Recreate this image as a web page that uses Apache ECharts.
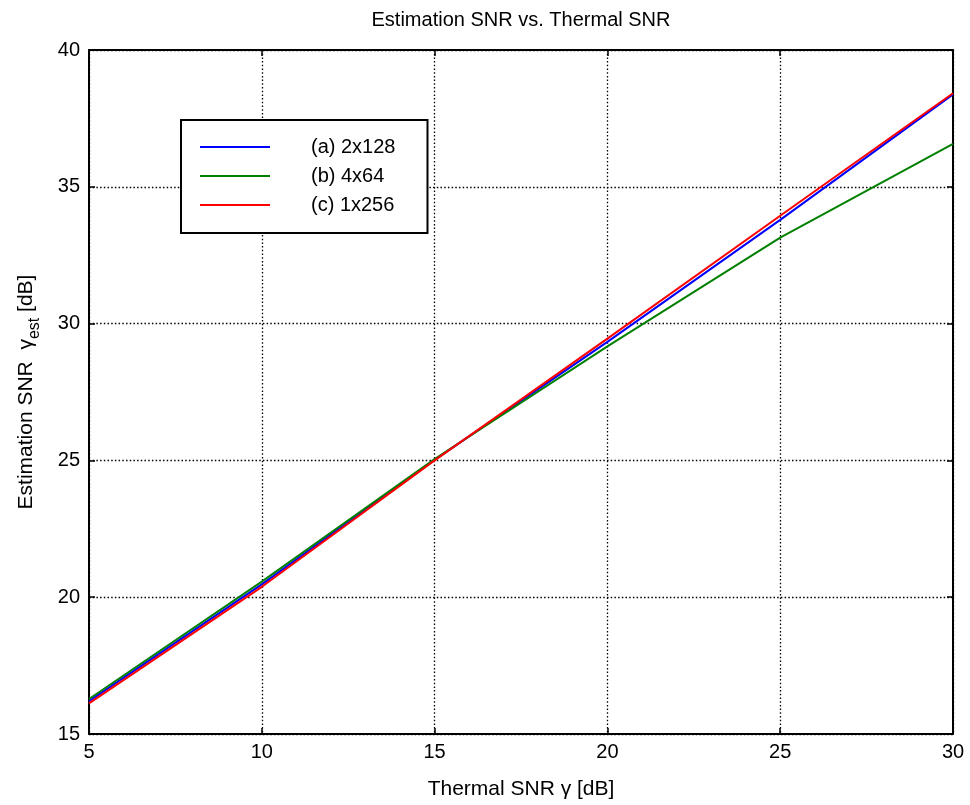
<!DOCTYPE html>
<html>
<head>
<meta charset="utf-8">
<title>Estimation SNR vs. Thermal SNR</title>
<script src="https://cdn.jsdelivr.net/npm/echarts@6/dist/echarts.min.js"></script>
<style>
  html, body { margin: 0; padding: 0; background: #fff; }
  #chart { width: 970px; height: 805px; }
</style>
</head>
<body>
<div id="chart"></div>
<script>
// thermal SNR (dB) sample points
var thermalSnr = [5, 10, 15, 20, 25, 30];
// estimation SNR (dB) per configuration
var snrA = [16.2, 20.47, 25.02, 29.33, 33.79, 38.38];   // (a) 2x128
var snrB = [16.28, 20.57, 25.05, 29.17, 33.14, 36.57];  // (b) 4x64
var snrC = [16.12, 20.38, 25.0, 29.45, 33.94, 38.42];   // (c) 1x256
var seriesNames = ["(a) 2x128", "(b) 4x64", "(c) 1x256"];
var seriesColors = ["#0000ff", "#008000", "#ff0000"];

var font = "Liberation Sans, Arial, Helvetica, sans-serif";

function pairs(xs, ys) {
  return xs.map(function (x, i) { return [x, ys[i]]; });
}

var grid = { left: 89, right: 17, top: 50, bottom: 71 };

var gridLine = { show: true, lineStyle: { color: "#000", width: 1.3, type: [1.5, 2.2] } };
var boxLine = { show: true, onZero: false, lineStyle: { color: "#000", width: 2 } };
var innerTick = { show: true, inside: true, length: 6, lineStyle: { color: "#000", width: 1.5 } };

var chart = echarts.init(document.getElementById("chart"));
chart.setOption({
  backgroundColor: "#fff",
  animation: false,
  title: {
    text: "Estimation SNR vs. Thermal SNR",
    left: 521,
    top: 10,
    padding: 0,
    textAlign: "center",
    textStyle: { fontFamily: font, fontSize: 20, fontWeight: "normal", color: "#000" }
  },
  legend: {
    orient: "vertical",
    left: 181,
    top: 120,
    backgroundColor: "#fff",
    borderColor: "#000",
    borderWidth: 2,
    borderRadius: 0,
    padding: [17, 32, 18, 18],
    itemWidth: 70,
    itemHeight: 17,
    itemGap: 9,
    data: seriesNames,
    itemStyle: { opacity: 0 },
    lineStyle: { width: 2 },
    formatter: function (name) { return "{gap|}" + name; },
    textStyle: {
      fontFamily: font, fontSize: 20, color: "#000",
      rich: { gap: { width: 36 } }
    }
  },
  grid: grid,
  xAxis: [
    {
      type: "value", position: "bottom", min: 5, max: 30, interval: 5,
      name: "Thermal SNR γ [dB]", nameLocation: "middle", nameGap: 45,
      nameTextStyle: { fontFamily: font, fontSize: 21, color: "#000" },
      axisLine: boxLine, axisTick: innerTick, splitLine: gridLine,
      axisLabel: { margin: 8, fontFamily: font, fontSize: 20, color: "#000" }
    },
    {
      type: "value", position: "top", min: 5, max: 30, interval: 5,
      axisLine: boxLine, axisTick: innerTick,
      splitLine: { show: false }, axisLabel: { show: false }
    }
  ],
  yAxis: [
    {
      type: "value", position: "left", min: 15, max: 40, interval: 5,
      name: "Estimation SNR  {g|γ}{s|est} [dB]", nameLocation: "middle", nameGap: 46,
      nameTextStyle: {
        fontFamily: font, fontSize: 21, color: "#000",
        rich: {
          g: { fontFamily: font, fontSize: 21, color: "#000" },
          s: { fontFamily: font, fontSize: 16, color: "#000", verticalAlign: "bottom", lineHeight: 34 }
        }
      },
      axisLine: boxLine, axisTick: innerTick, splitLine: gridLine,
      axisLabel: { margin: 9, fontFamily: font, fontSize: 20, color: "#000" }
    },
    {
      type: "value", position: "right", min: 15, max: 40, interval: 5,
      axisLine: boxLine, axisTick: innerTick,
      splitLine: { show: false }, axisLabel: { show: false }
    }
  ],
  series: [snrA, snrB, snrC].map(function (vals, i) {
    return {
      name: seriesNames[i],
      type: "line",
      xAxisIndex: 0,
      yAxisIndex: 0,
      data: pairs(thermalSnr, vals),
      symbol: "none",
      color: seriesColors[i],
      lineStyle: { color: seriesColors[i], width: 2 }
    };
  })
});
</script>
</body>
</html>
